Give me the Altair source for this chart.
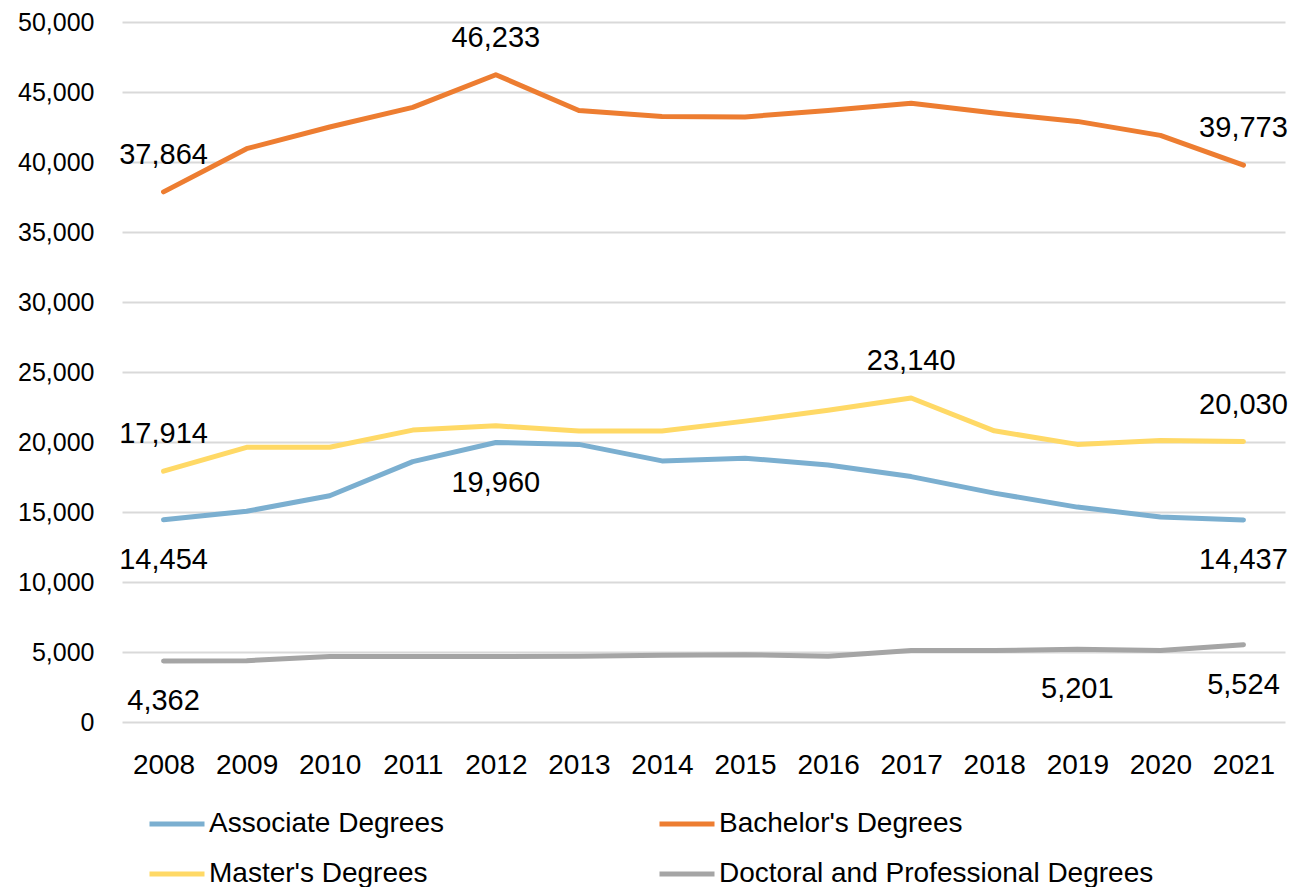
import altair as alt
import pandas as pd

years = [str(y) for y in range(2008, 2022)]
series_names = ["Associate Degrees", "Bachelor's Degrees", "Master's Degrees",
                "Doctoral and Professional Degrees"]
colors = ["#7BAFD0", "#ED7D31", "#FFD966", "#A5A5A5"]

associate = [14454, 15050, 16160, 18600, 19960, 19830, 18650, 18840, 18360, 17530, 16350, 15350, 14640, 14437]
bachelor = [37864, 40950, 42500, 43900, 46233, 43680, 43250, 43220, 43680, 44200, 43500, 42900, 41900, 39773]
master = [17914, 19620, 19620, 20850, 21160, 20780, 20780, 21490, 22270, 23140, 20800, 19830, 20110, 20030]
doctoral = [4362, 4380, 4670, 4670, 4670, 4700, 4760, 4800, 4700, 5100, 5100, 5201, 5100, 5524]

# years whose value is printed, per series
labeled_associate = ["2008", "2012", "2021"]
labeled_bachelor = ["2008", "2012", "2021"]
labeled_master = ["2008", "2017", "2021"]
labeled_doctoral = ["2008", "2019", "2021"]

values = [associate, bachelor, master, doctoral]
label_years = [labeled_associate, labeled_bachelor, labeled_master, labeled_doctoral]
label_pos = ["below", "above", "above", "below"]

rows = []
for name, vals, lys, pos in zip(series_names, values, label_years, label_pos):
    for y, v in zip(years, vals):
        rows.append({"year": y, "value": v, "series": name,
                     "label": (f"{v:,}" if y in lys else ""), "pos": pos})
df = pd.DataFrame(rows)

FONT = "Liberation Sans"

x_enc = alt.X("year:O", title=None,
              scale=alt.Scale(type="point", padding=0.5),
              axis=alt.Axis(labelAngle=0, labelFontSize=28, labelPadding=29,
                            ticks=False, domain=False, labelColor="#000000",
                            labelFont=FONT))
y_enc = alt.Y("value:Q", title=None,
              scale=alt.Scale(domain=[0, 50000], nice=False),
              axis=alt.Axis(values=list(range(0, 50001, 5000)), format=",d",
                            labelFontSize=25, labelPadding=28, ticks=False,
                            domain=False, gridColor="#D9D9D9", gridWidth=2,
                            labelColor="#000000", labelFont=FONT))

color_enc = alt.Color("series:N", title=None,
                      scale=alt.Scale(domain=series_names, range=colors),
                      legend=alt.Legend(orient="none", legendX=25, legendY=772,
                                        direction="horizontal",
                                        columns=2, symbolType="stroke",
                                        symbolSize=3025, symbolStrokeWidth=5,
                                        labelFontSize=28, labelFont=FONT,
                                        labelColor="#000000", labelOffset=2,
                                        columnPadding=204, rowPadding=6,
                                        labelLimit=700))

lines = alt.Chart(df).mark_line(strokeWidth=5, strokeCap="round", strokeJoin="round").encode(
    x=x_enc, y=y_enc, color=color_enc, detail="series:N")

above = alt.Chart(df).transform_filter(
    (alt.datum.label != "") & (alt.datum.pos == "above")
).mark_text(dy=-37, fontSize=29, font=FONT, color="#000000", baseline="middle").encode(
    x=alt.X("year:O"), y=alt.Y("value:Q"), text="label:N")

below = alt.Chart(df).transform_filter(
    (alt.datum.label != "") & (alt.datum.pos == "below")
).mark_text(dy=40, fontSize=29, font=FONT, color="#000000", baseline="middle").encode(
    x=alt.X("year:O"), y=alt.Y("value:Q"), text="label:N")

chart = alt.layer(lines, above, below).properties(
    width=1163, height=700,
    autosize=alt.AutoSizeParams(type="none"),
    padding={"left": 114, "top": 14, "right": 12, "bottom": 165},
    background="white",
).configure_view(stroke=None)

chart.save("out.html", embed_options={"renderer": "svg", "actions": False})
